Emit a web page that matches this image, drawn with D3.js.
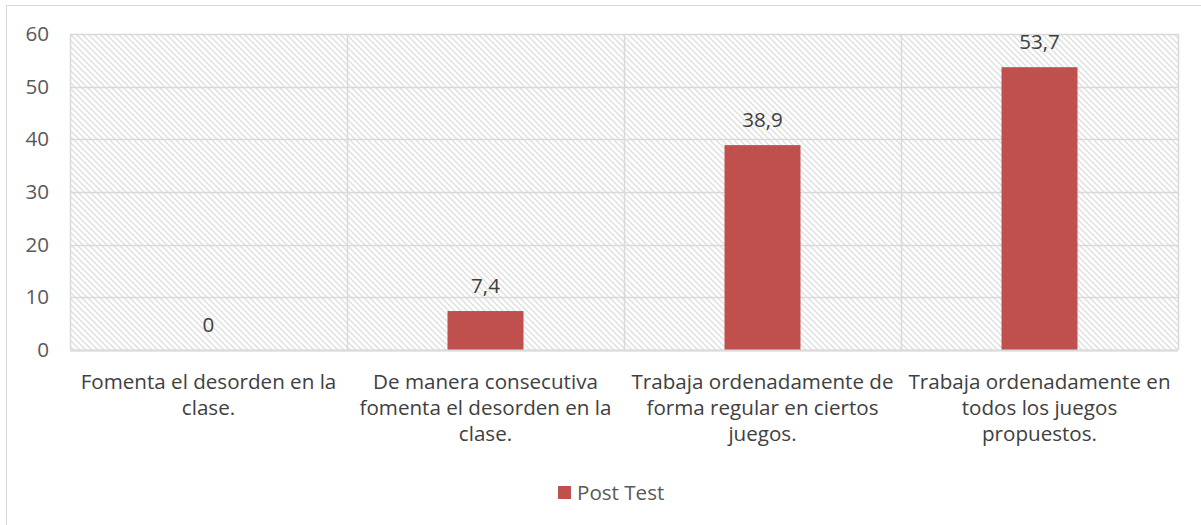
<!DOCTYPE html>
<html><head><meta charset="utf-8">
<script src="https://cdn.jsdelivr.net/npm/d3@7"></script>
<style>body{margin:0;background:#fff}svg{display:block}text{font-family:"Open Sans",sans-serif}</style>
</head><body><div id="chart"></div>
<script>
const categories = ["Fomenta el desorden en la clase.","De manera consecutiva fomenta el desorden en la clase.","Trabaja ordenadamente de forma regular en ciertos juegos.","Trabaja ordenadamente en todos los juegos propuestos."];
const categoryLines = [["Fomenta el desorden en la","clase."],["De manera consecutiva","fomenta el desorden en la","clase."],["Trabaja ordenadamente de","forma regular en ciertos","juegos."],["Trabaja ordenadamente en","todos los juegos","propuestos."]];
const values = [0, 7.4, 38.9, 53.7];
const valueLabels = ["0","7,4","38,9","53,7"];
const yTicks = [0,10,20,30,40,50,60];
const seriesName = "Post Test";

const W=1201,H=525;
const FS=20.6;
const m={l:70,r:1178,t:34,b:350};
const svg=d3.select("#chart").append("svg").attr("width",W).attr("height",H);
const defs=svg.append("defs");
const pat=defs.append("pattern").attr("id","hatch").attr("patternUnits","userSpaceOnUse").attr("width",6).attr("height",6);
pat.append("rect").attr("width",6).attr("height",6).attr("fill","#fff");
pat.append("path").attr("d","M-2,-2 L8,8 M-2,4 L2,8 M4,-2 L8,2").attr("stroke","#e0e0e0").attr("stroke-width",1.5);

svg.append("rect").attr("x",6.5).attr("y",5.5).attr("width",1200).attr("height",530).attr("fill","#fff").attr("stroke","#d9d9d9");

const x=d3.scaleBand().domain(categories).range([m.l,m.r]).paddingInner(0).paddingOuter(0);
const y=d3.scaleLinear().domain([0,60]).range([m.b,m.t]);

svg.append("rect").attr("x",m.l).attr("y",m.t).attr("width",m.r-m.l).attr("height",m.b-m.t).attr("fill","url(#hatch)");

const g=svg.append("g");
g.selectAll(".hg").data(yTicks).join("line").attr("x1",m.l).attr("x2",m.r).attr("y1",d=>Math.round(y(d))+0.5).attr("y2",d=>Math.round(y(d))+0.5).attr("stroke","#d9d9d9").attr("stroke-width",1.5);
const vlines=[m.l, ...categories.map(c=>x(c)+x.bandwidth())];
g.selectAll(".vg").data(vlines).join("line").attr("x1",d=>Math.round(d)+0.5).attr("x2",d=>Math.round(d)+0.5).attr("y1",m.t).attr("y2",m.b).attr("stroke","#d9d9d9").attr("stroke-width",1.5);

const bw=76;
svg.selectAll(".bar").data(values).join("rect")
 .attr("x",(d,i)=>x(categories[i])+x.bandwidth()/2-bw/2).attr("width",bw)
 .attr("y",d=>y(d)).attr("height",d=>y(0)-y(d)).attr("fill","#c0504d");

svg.append("line").attr("x1",m.l).attr("x2",m.r).attr("y1",m.b+0.5).attr("y2",m.b+0.5).attr("stroke","#d9d9d9").attr("stroke-width",2);

svg.selectAll(".vl").data(values).join("text")
 .attr("x",(d,i)=>x(categories[i])+x.bandwidth()/2).attr("y",d=>y(d)-18)
 .attr("text-anchor","middle").attr("font-size",FS).attr("fill","#404040").text((d,i)=>valueLabels[i]);

svg.selectAll(".yt").data(yTicks).join("text")
 .attr("x",49).attr("y",d=>y(d)+7).attr("text-anchor","end").attr("font-size",FS).attr("fill","#595959").text(d=>d);

categories.forEach((c,i)=>{
 const cx=x(c)+x.bandwidth()/2;
 categoryLines[i].forEach((ln,j)=>{
  svg.append("text").attr("x",cx).attr("y",389+j*26).attr("text-anchor","middle").attr("font-size",FS).attr("fill","#404040").text(ln);
 });
});

svg.append("rect").attr("x",558).attr("y",486).attr("width",13).attr("height",13).attr("fill","#c0504d");
svg.append("text").attr("x",577).attr("y",500).attr("font-size",FS).attr("fill","#595959").text(seriesName);
</script></body></html>
